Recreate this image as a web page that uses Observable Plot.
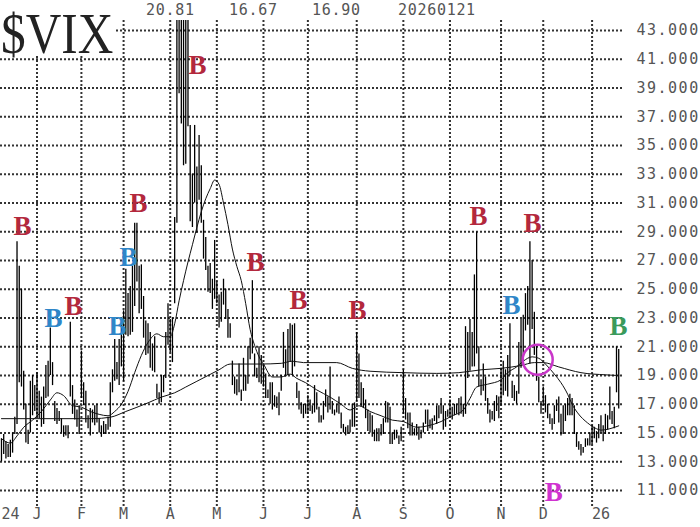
<!DOCTYPE html>
<html>
<head>
<meta charset="utf-8">
<script src="https://cdn.jsdelivr.net/npm/d3@7"></script>
<script src="https://cdn.jsdelivr.net/npm/@observablehq/plot@0.6"></script>
<style>
  html, body { margin: 0; padding: 0; background: #fff; overflow: hidden; }
  #wrap { position: relative; width: 700px; height: 527px; }
  #title { position: absolute; left: 0; top: 0; overflow: visible; }
  .hdr { position: absolute; top: 1px; font-family: "DejaVu Sans Mono", monospace; font-size: 15px;
         letter-spacing: 0.7px; color: #555; white-space: nowrap; }
</style>
</head>
<body>
<div id="wrap"></div>
<script>
// ---- data (VIX daily bars, trading-day index; 0 = 2 Jan 2025) ----
const firstIndex = -16; // 9 Dec 2024
const high = [
  // Dec 2024
  14.6, 14.9, 14.4, 14.2, 14.5, 15.0, 16.1, 28.3, 26.6, 25.0, 19.3, 17.0, 15.2, 18.6, 19.0, 18.3,
  // Jan 2025
  19.2, 17.9, 17.5, 18.2, 19.7, 20.0, 22.3, 19.9, 17.2, 16.7, 16.5, 16.0, 15.5, 15.5, 15.5, 22.7, 18.3, 17.3, 16.6, 16.9,
  // Feb
  20.7, 18.5, 17.9, 16.2, 16.7, 16.6, 16.9, 17.0, 16.0, 15.5, 15.8, 15.6, 16.1, 18.5, 19.4, 21.5, 19.9, 21.5, 22.6,
  // Mar
  23.5, 26.4, 24.7, 25.2, 26.6, 29.6, 29.6, 26.6, 26.7, 24.5, 22.8, 22.6, 22.0, 21.2, 21.7, 18.4, 17.8, 19.0, 19.0, 22.0, 24.0,
  // Apr
  22.9, 23.0, 30.0, 45.3, 60.1, 57.5, 57.9, 54.9, 46.1, 36.4, 33.0, 36.4, 33.5, 35.7, 33.6, 29.8, 28.6, 26.6, 26.8, 25.7, 28.4,
  // May
  25.5, 24.6, 24.8, 25.7, 25.0, 23.6, 22.6, 20.0, 18.9, 18.7, 19.8, 18.0, 20.2, 19.0, 21.0, 21.6, 25.6, 20.5, 19.5, 21.0, 20.4,
  // Jun
  19.7, 19.1, 18.0, 18.5, 18.5, 17.6, 17.5, 17.8, 19.0, 22.0, 20.8, 22.2, 22.6, 22.5, 22.6, 18.5, 17.9, 17.1, 17.0, 17.0,
  // Jul
  17.6, 17.3, 16.9, 18.3, 17.8, 16.8, 16.2, 17.2, 18.0, 17.5, 19.6, 17.2, 16.6, 17.0, 17.5, 16.4, 15.6, 15.4, 15.5, 15.9, 17.0, 17.1,
  // Aug
  22.0, 20.5, 18.5, 18.1, 17.3, 16.6, 16.4, 16.2, 15.2, 15.3, 15.3, 15.6, 16.0, 17.2, 17.1, 16.8, 15.0, 15.2, 15.2, 14.8, 15.4,
  // Sep
  19.4, 17.4, 16.4, 16.4, 15.7, 15.3, 15.6, 15.4, 15.2, 15.7, 16.6, 16.6, 15.9, 16.0, 16.2, 16.9, 16.9, 17.4, 16.9, 16.5, 16.6,
  // Oct
  17.3, 16.8, 17.0, 17.0, 17.4, 17.5, 17.0, 22.4, 22.0, 22.9, 22.0, 26.0, 28.99, 21.0, 18.7, 19.8, 18.9, 17.4, 16.6, 16.5, 17.2, 17.6, 17.5,
  // Nov
  19.5, 20.0, 19.4, 20.4, 22.6, 18.6, 18.3, 17.9, 21.3, 22.9, 23.2, 24.7, 25.2, 28.3, 27.0, 23.4, 21.1, 18.9, 17.2,
  // Dec
  18.2, 17.6, 17.0, 16.3, 16.0, 16.9, 17.3, 17.5, 16.3, 16.9, 17.0, 17.4, 17.7, 17.4, 16.9, 15.0, 14.4, 14.2, 14.0, 14.6, 14.6, 15.0,
  // Jan 2026
  15.5, 15.4, 15.1, 15.6, 16.2, 15.5, 16.3, 16.2, 18.2, 16.5, 16.8, 20.99, 20.81
];
const low = [
  // Dec 2024
  13.0, 13.5, 13.2, 13.3, 13.3, 13.6, 14.9, 15.6, 18.5, 18.2, 16.6, 14.3, 14.2, 15.0, 16.2, 16.5,
  // Jan 2025
  16.1, 16.0, 15.4, 15.6, 17.4, 17.5, 19.0, 18.3, 15.8, 15.6, 15.8, 15.0, 14.7, 14.8, 14.6, 17.5, 16.3, 15.9, 15.4, 14.9,
  // Feb
  17.4, 16.9, 15.7, 15.3, 14.8, 15.7, 15.5, 15.7, 15.0, 14.7, 14.9, 14.9, 15.2, 15.4, 17.8, 18.6, 18.7, 18.3, 19.6,
  // Mar
  18.6, 21.8, 21.7, 21.8, 22.0, 23.8, 25.5, 23.3, 23.6, 21.6, 20.4, 20.5, 19.5, 19.3, 19.2, 17.4, 17.0, 17.1, 17.8, 18.8, 21.1,
  // Apr
  20.6, 19.9, 24.0, 29.6, 38.6, 36.5, 33.6, 33.7, 36.3, 29.7, 29.3, 31.0, 28.9, 31.2, 29.6, 27.1, 26.3, 24.8, 24.7, 23.6, 24.3,
  // May
  24.0, 22.3, 22.7, 23.9, 22.9, 21.6, 21.6, 18.3, 17.7, 17.6, 17.8, 17.2, 17.9, 17.9, 18.4, 20.1, 20.5, 18.9, 18.8, 18.5, 18.4,
  // Jun
  18.2, 17.4, 17.4, 17.0, 16.6, 16.8, 16.7, 16.2, 17.9, 19.5, 18.9, 19.0, 19.9, 19.0, 19.6, 17.4, 16.6, 16.3, 16.0, 16.3,
  // Jul
  16.3, 16.5, 16.3, 16.4, 16.6, 15.7, 15.7, 15.9, 16.8, 16.4, 16.6, 16.3, 16.2, 16.4, 16.3, 15.3, 15.0, 14.8, 14.9, 15.0, 15.4, 15.4,
  // Aug
  17.2, 17.4, 16.8, 16.7, 16.0, 15.1, 15.0, 14.7, 14.4, 14.4, 14.4, 14.8, 14.9, 15.7, 15.7, 14.2, 14.2, 14.5, 14.6, 14.2, 14.4,
  // Sep
  16.3, 15.9, 15.3, 14.8, 14.8, 14.8, 14.8, 14.5, 14.6, 15.0, 15.6, 15.1, 15.3, 15.2, 15.8, 15.6, 16.0, 16.3, 15.2, 15.4, 16.1,
  // Oct
  16.1, 15.9, 16.2, 16.3, 16.2, 16.3, 16.1, 16.3, 18.8, 19.3, 19.6, 19.6, 20.5, 18.2, 17.6, 17.9, 17.2, 16.3, 15.7, 15.9, 15.8, 16.5, 16.0,
  // Nov
  16.9, 17.6, 17.9, 17.5, 19.0, 17.4, 17.2, 17.0, 17.7, 19.5, 19.7, 22.1, 22.5, 19.8, 22.2, 20.4, 18.6, 17.1, 16.3,
  // Dec
  16.9, 16.4, 16.0, 15.6, 15.2, 15.6, 16.5, 15.7, 14.8, 14.9, 15.8, 16.2, 16.2, 16.2, 14.9, 14.0, 13.8, 13.4, 13.6, 14.0, 14.1, 14.1,
  // Jan 2026
  14.2, 14.6, 14.3, 14.6, 15.0, 14.4, 14.9, 15.2, 15.9, 15.6, 15.3, 17.8, 16.67
];
// 20-day moving average: [trading-day index, value]
const ma20 = [
  [-16, 14.6], [-12, 14.3], [-9, 14.8], [-6, 15.4], [-2, 15.9], [2, 16.5], [6, 17.3], [9, 17.8], [12, 17.6],
  [16, 16.9], [20, 16.8], [24, 16.5], [28, 16.3], [32, 16.2], [35, 16.5], [38, 17.0], [41, 17.9], [44, 19.2],
  [47, 20.4], [50, 21.3], [54, 21.9], [57, 21.7], [60, 21.7], [62, 22.6], [64, 24.2], [66, 25.6], [68, 26.9],
  [70, 28.1], [72, 29.3], [74, 30.4], [76, 31.3], [78, 32.0], [80, 32.6], [82, 32.3], [84, 31.0], [86, 29.5],
  [88, 27.8], [90, 26.6], [92, 25.6], [94, 24.0], [96, 22.2], [98, 21.1], [100, 20.3], [102, 19.8], [106, 18.9],
  [110, 18.9], [114, 19.1], [117, 18.8], [121, 18.5], [126, 18.0], [132, 17.5], [137, 17.0], [141, 16.6],
  [145, 16.9], [150, 16.5], [155, 16.2], [160, 15.9], [165, 15.8], [171, 15.4], [176, 15.5], [182, 15.8],
  [187, 16.2], [192, 16.6], [195, 17.4], [198, 18.2], [203, 18.4], [209, 18.7], [212, 19.2], [216, 19.6],
  [219, 20.0], [223, 20.3], [226, 20.2], [229, 19.8], [233, 19.1], [236, 18.5], [239, 17.7], [241, 17.0],
  [243.5, 16.4], [248, 15.7], [252, 15.3], [254, 15.2], [258, 15.3], [262, 15.5]
];
// 200-day moving average
const ma200 = [
  [-16, 16.0], [10, 16.0], [25, 16.0], [33, 16.1], [40, 16.5], [50, 17.1], [56, 17.5], [62, 17.8], [67, 18.2],
  [72, 18.6], [77, 19.0], [82, 19.4], [87, 19.8], [100, 19.8], [110, 19.85], [115, 20.0], [120, 19.9],
  [135, 19.9], [142, 19.5], [150, 19.3], [165, 19.2], [180, 19.15], [190, 19.2], [200, 19.4], [209, 19.5],
  [218, 19.7], [224, 19.9], [228, 19.9], [235, 19.6], [245, 19.2], [256, 19.05], [262, 19.0]
];
// buy signals "B"
const signalIndex = [-6.5, 7.4, 16.4, 36.3, 41.2, 45.7, 72.3, 98.4, 117.8, 144.4, 198.9, 213.7, 223.2, 261.9, 232.7];
const signalLevel = [29.4, 23.0, 23.8, 22.4, 27.2, 31.0, 40.6, 26.9, 24.2, 23.5, 30.1, 23.9, 29.6, 22.4, 10.9];
const signalColor = ["#b3283d", "#2f86c8", "#b3283d", "#2f86c8", "#2f86c8", "#b3283d", "#b3283d", "#b3283d",
                     "#b3283d", "#b3283d", "#b3283d", "#2f86c8", "#b3283d", "#3a9a5c", "#d033d0"];
// circled crossover
const circleIndex = [225.5];
const circleLevel = [20.1];
// axes
const yTicks = [11, 13, 15, 17, 19, 21, 23, 25, 27, 29, 31, 33, 35, 37, 39, 41, 43];
const monthIndex = [-16, 0, 20, 39, 60, 81, 102, 122, 144, 165, 186, 209, 228, 250];
const monthLabels = ["24", "J", "F", "M", "A", "M", "J", "J", "A", "S", "O", "N", "D", "26"];
const gridIndex = [0, 20, 39, 60, 81, 102, 122, 144, 165, 186, 209, 228, 250];
const headerTexts = ["20.81", "16.67", "16.90", "20260121"];
const titleText = "$VIX";

// ---- build ----
const bars = high.map((h, k) => ({i: firstIndex + k, h, l: low[k]}));
const signals = signalIndex.map((i, k) => ({i, v: signalLevel[k], c: signalColor[k]}));
const circles = circleIndex.map((i, k) => ({i, v: circleLevel[k]}));
const months = monthIndex.map((i, k) => ({i, label: monthLabels[k], year: k === 0 || k === monthIndex.length - 1}));

const mono = "DejaVu Sans Mono, monospace";
const gridStyle = {stroke: "#333", strokeWidth: 2, strokeDasharray: "2,2"};
const chart = Plot.plot({
  width: 700,
  height: 527,
  marginLeft: 0,
  marginRight: 78,
  marginTop: 20,
  marginBottom: 19,
  x: {domain: [-16.44, 263.7], axis: null},
  y: {domain: [9.75, 43.7], axis: null},
  color: {type: "identity"},
  style: {background: "#fff", overflow: "visible"},
  marks: [
    Plot.ruleY(yTicks, {y: d => d, ...gridStyle}),
    Plot.ruleX(gridIndex, {x: d => d, ...gridStyle}),
    Plot.ruleX(bars, {x: "i", y1: "l", y2: "h", stroke: "#000", strokeWidth: 1.3, clip: true}),
    Plot.line(ma200, {x: d => d[0], y: d => d[1], stroke: "#111", strokeWidth: 1, curve: "monotone-x", clip: true}),
    Plot.line(ma20, {x: d => d[0], y: d => d[1], stroke: "#111", strokeWidth: 1, curve: "monotone-x", clip: true}),
    Plot.dot(circles, {x: "i", y: "v", r: 15, stroke: "#c936c9", strokeWidth: 2.5, fill: "none"}),
    Plot.text(signals, {x: "i", y: "v", text: () => "B", fill: "c", fontSize: 27, fontWeight: "bold",
      fontFamily: "Liberation Serif, DejaVu Serif, serif"}),
    Plot.text(yTicks, {y: d => d, frameAnchor: "right", dx: 14, textAnchor: "start", text: d => d.toFixed(3),
      fontSize: 15, fill: "#555", fontFamily: mono}),
    Plot.text(months.filter(d => !d.year), {x: "i", frameAnchor: "bottom", dy: 10, text: "label",
      fontSize: 15, fill: "#555", fontFamily: mono}),
    Plot.text(months.filter(d => d.year), {x: "i", frameAnchor: "bottom", dy: 10, dx: 0, textAnchor: "start",
      text: "label", fontSize: 15, fill: "#555", fontFamily: mono})
  ]
});
d3.select(chart).selectAll("text").filter(function() {
  return /^\d+\.\d{3}$/.test(this.textContent);
}).style("letter-spacing", "1.5px");

const wrap = document.getElementById("wrap");
wrap.appendChild(chart);

// title box (white background hides the grid behind it)
const tsvg = d3.select(wrap).append("svg").attr("id", "title").attr("width", 150).attr("height", 62);
tsvg.append("rect").attr("width", 116).attr("height", 55).attr("fill", "#fff");
tsvg.append("text").attr("transform", "translate(1,53) scale(0.85,1)")
  .attr("font-family", "Liberation Serif, DejaVu Serif, serif").attr("font-size", 58).attr("fill", "#222")
  .text(titleText);

const headerLeft = [146, 229, 312, 398];
headerTexts.forEach((t, k) => {
  const s = document.createElement("div");
  s.className = "hdr";
  s.style.left = headerLeft[k] + "px";
  s.textContent = t;
  wrap.appendChild(s);
});
</script>
</body>
</html>
